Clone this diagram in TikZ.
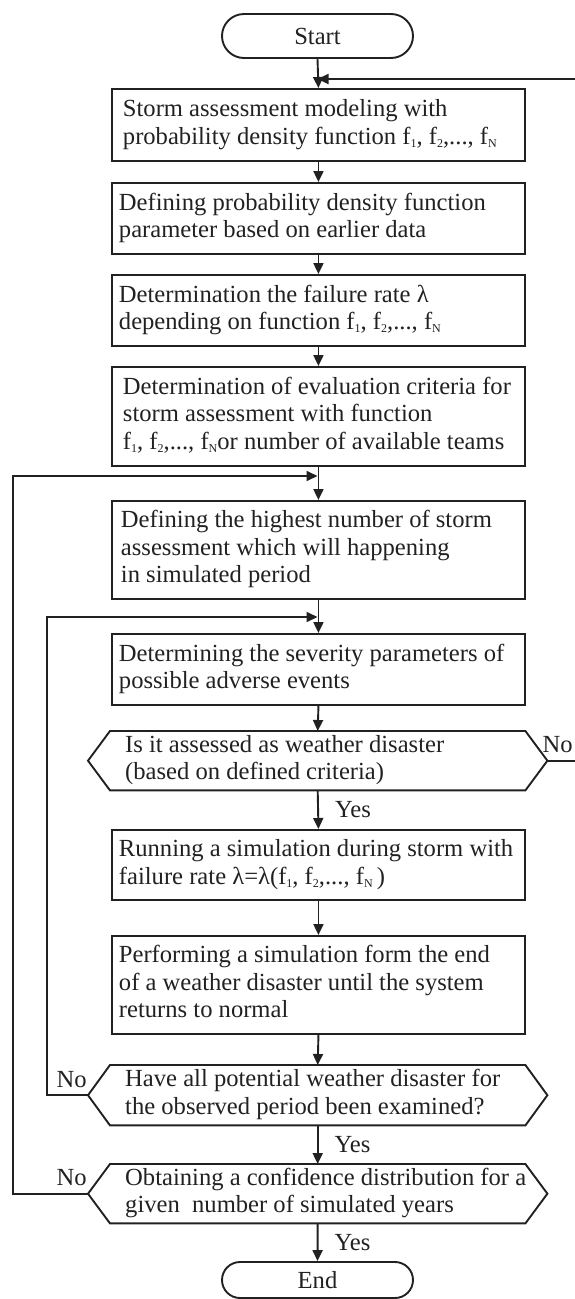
\documentclass[tikz,border=0pt]{standalone}
\usepackage{fontspec}
\setmainfont{Liberation Serif}
\usetikzlibrary{arrows.meta,shapes.misc,calc}
\definecolor{ink}{gray}{0.13}
% small lowered index such as f_1
\newcommand\sub[1]{\raisebox{-3pt}{\fontsize{12}{12}\selectfont #1}}
% fixed-width left-aligned block of lines (long lines may run past the width)
\newcommand\txt[2]{\makebox[#1][l]{\begin{tabular}{@{}l@{}}#2\end{tabular}}}
% outline of a decision: rectangle with pointed left and right ends
\newcommand\hexa[1]{%
  \coordinate (#1r) at ([xshift=22pt]#1.east);
  \coordinate (#1l) at ([xshift=-22pt]#1.west);
  \draw[conn, line join=miter] (#1.north west) -- (#1.north east) -- (#1r)
    -- (#1.south east) -- (#1.south west) -- (#1l) -- cycle;}

\begin{document}
\begin{tikzpicture}[x=1pt,y=-1pt,
  every node/.style={font=\fontsize{24.6pt}{27.5pt}\selectfont, text=ink},
  conn/.style={draw=ink, line width=1.9pt},
  arr/.style={conn, -{Triangle[length=11pt,width=10pt]}},
  box/.style={draw=ink, line width=1.9pt, rectangle, anchor=north west,
              inner ysep=0pt, inner xsep=#1},
  box/.default=7pt,
  term/.style={draw=ink, line width=1.9pt, rounded rectangle,
               minimum width=191pt, inner sep=0pt},
  dec/.style={rectangle, anchor=north west, inner xsep=15pt, inner ysep=0pt},
  lbl/.style={inner sep=0pt}
]
\useasboundingbox (0,0) rectangle (575,1299);

% terminals
\node[term, minimum height=44pt] (start) at (317.5,36) {Start};
\node[term, minimum height=36pt] (end) at (317.5,1280) {End};

% process steps
\node[box=11pt, minimum height=72pt] (b1) at (111,88)
  {\txt{391pt}{Storm assessment modeling with\\
   probability density function f\sub{1}, f\sub{2},..., f\sub{N}}};
\node[box, minimum height=71pt] (b2) at (111,182)
  {\txt{399pt}{Defining probability density function\\
   parameter based on earlier data}};
\node[box, minimum height=71pt] (b3) at (111,274)
  {\txt{399pt}{Determination the failure rate λ\\
   depending on function f\sub{1}, f\sub{2},..., f\sub{N}}};
\node[box=11pt, minimum height=99pt] (b4) at (111,366)
  {\txt{391pt}{Determination of evaluation criteria for\\
   storm assessment with function\\
   f\sub{1}, f\sub{2},..., f\sub{N}or number of available teams}};
\node[box=9pt, minimum height=98pt] (b5) at (111,500)
  {\txt{395pt}{Defining the highest number of storm\\
   assessment which will happening\\
   in simulated period}};
\node[box, minimum height=71pt] (b6) at (111,633)
  {\txt{399pt}{Determining the severity parameters of\\
   possible adverse events}};
\node[box, minimum height=70pt] (b7) at (111,829)
  {\txt{399pt}{Running a simulation during storm with\\
   failure rate λ=λ(f\sub{1}, f\sub{2},..., f\sub{N}\,)}};
\node[box, minimum height=98pt] (b8) at (111,935)
  {\txt{399pt}{Performing a simulation form the end\\
   of a weather disaster until the system\\
   returns to normal}};

% decisions
\node[dec, minimum height=59pt] (d1) at (110,731)
  {\txt{385pt}{Is it assessed as weather disaster\\
   (based on defined criteria)}};
\node[dec, minimum height=60pt] (d2) at (110,1065)
  {\txt{385pt}{Have all potential weather disaster for\\
   the observed period been examined?}};
\node[dec, minimum height=59pt] (d3) at (110,1164)
  {\txt{385pt}{Obtaining a confidence distribution for a\\
   given\ \ number of simulated years}};
\hexa{d1}
\hexa{d2}
\hexa{d3}

% junction points on the main axis and the return rails
\coordinate (j0) at (317.5,79);
\coordinate (j1) at (317.5,476);
\coordinate (j2) at (317.5,617);
\coordinate (railE) at (590,0);
\coordinate (railA) at (13,0);
\coordinate (railB) at (47,0);

% main flow
\draw[arr] (start.south) -- (b1.north);
\draw[arr] (b1.south) -- (b2.north);
\draw[arr] (b2.south) -- (b3.north);
\draw[arr] (b3.south) -- (b4.north);
\draw[arr] (b4.south) -- (b5.north);
\draw[arr] (b5.south) -- (b6.north);
\draw[arr] (b6.south) -- (d1.north);
\draw[arr] (d1.south) -- node[lbl, right=16pt] {Yes} (b7.north);
\draw[arr] (b7.south) -- (b8.north);
\draw[arr] (b8.south) -- (d2.north);
\draw[arr] (d2.south) -- node[lbl, right=16pt] {Yes} (d3.north);
\draw[arr] (d3.south) -- node[lbl, right=16pt] {Yes} (end.north);

% return paths
\draw[arr] (d1r) -- (d1r -| railE) |- (j0);
\draw[arr] (d2l) -- (d2l -| railB) |- (j2);
\draw[arr] (d3l) -- (d3l -| railA) |- (j1);

% "No" labels
\node[lbl, anchor=base west] at ([xshift=-5pt, yshift=8pt]d1r) {No};
\node[lbl, anchor=base east] at ([xshift=-1pt, yshift=8pt]d2l) {No};
\node[lbl, anchor=base east] at ([xshift=-1pt, yshift=8pt]d3l) {No};
\end{tikzpicture}
\end{document}
